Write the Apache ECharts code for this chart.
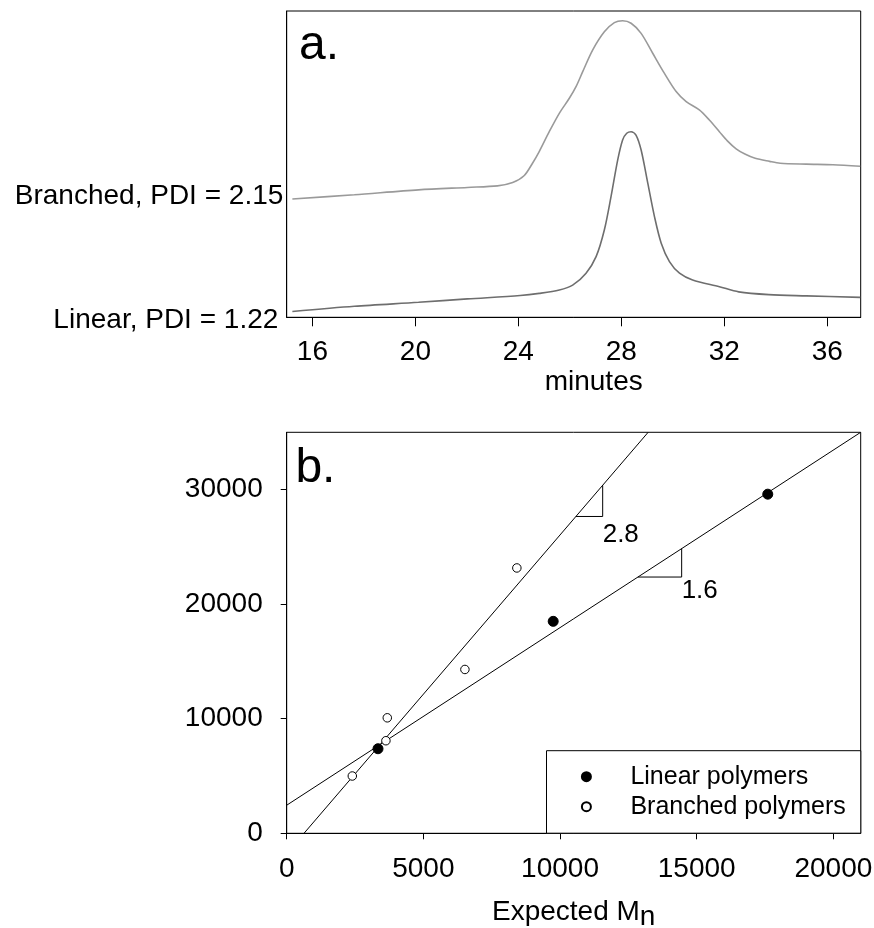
<!DOCTYPE html>
<html>
<head>
<meta charset="utf-8">
<script src="https://cdn.jsdelivr.net/npm/echarts@6/dist/echarts.min.js"></script>
<style>
  html, body { margin: 0; padding: 0; background: #fff; }
  #chart { width: 874px; height: 928px; }
</style>
</head>
<body>
<div id="chart"></div>
<script>
const FONT = '"Liberation Sans", Arial, Helvetica, sans-serif';

// ---- Panel a: GPC elution traces (response offset, arbitrary units) ----
const branchedTime = [15.22, 17.63, 20.12, 22.02, 23.19, 23.78, 24.22, 24.55, 24.81, 25.20, 25.59, 25.98,
  26.24, 26.50, 26.89, 27.34, 27.73, 28.05, 28.38, 28.77, 29.22, 29.67, 30.13, 30.52, 31.03, 31.42, 31.81,
  32.12, 32.46, 32.80, 33.20, 33.76, 34.17, 35.19, 36.22, 37.28];
const branchedSignal = [38.6, 40.0, 41.6, 42.4, 42.9, 44.0, 46.2, 50.3, 54.1, 60.6, 66.6, 71.5,
  75.3, 80.2, 87.3, 93.2, 96.2, 96.8, 96.0, 92.7, 86.2, 79.7, 73.7, 70.4, 67.7, 64.4, 60.6,
  57.6, 55.0, 53.3, 51.9, 50.9, 50.3, 50.0, 49.8, 49.3];
const linearTime = [15.22, 17.63, 20.12, 22.02, 24.07, 24.81, 25.59, 26.11, 26.63, 27.02, 27.34, 27.60,
  27.86, 28.05, 28.21, 28.38, 28.57, 28.77, 29.03, 29.29, 29.55, 29.87, 30.26, 30.77, 31.81, 32.56,
  33.73, 35.19, 37.28];
const linearSignal = [1.9, 3.6, 4.9, 6.0, 7.1, 7.8, 8.9, 10.5, 14.4, 19.8, 28.5, 39.4,
  51.4, 57.9, 60.1, 60.6, 59.5, 54.6, 43.7, 32.8, 24.2, 18.2, 14.4, 12.2, 10.0, 8.3,
  7.4, 7.0, 6.5];
const traceLabels = ['Branched, PDI = 2.15', 'Linear, PDI = 1.22'];
const timeTicks = [16, 20, 24, 28, 32, 36];

// ---- Panel b: measured vs expected Mn ----
const linearExpected = [3340, 9750, 17600];
const linearMeasured = [7380, 18500, 29600];
const branchedExpected = [2400, 3630, 3680, 6520, 8420];
const branchedMeasured = [5000, 8080, 10080, 14300, 23160];
const seriesNames = ['Linear polymers', 'Branched polymers'];
// straight-line fits: [linear, branched]
const fitSlopes = [1.55, 2.78];
const fitIntercepts = [2450, -1760];
const slopeLabels = ['1.6', '2.8'];
const slopeRuns = [[12850, 14450], [10580, 11560]];
const mnTicksX = [0, 5000, 10000, 15000, 20000];
const mnTicksY = [0, 10000, 20000, 30000];

const X_MAX = 21000, Y_MAX = 35000;

function fitLine(i) {
  const m = fitSlopes[i], b = fitIntercepts[i];
  const x0 = Math.max(0, (0 - b) / m);
  const x1 = Math.min(X_MAX, (Y_MAX - b) / m);
  return [[x0, m * x0 + b], [x1, m * x1 + b]];
}
function slopeTriangle(i) {
  const m = fitSlopes[i], b = fitIntercepts[i];
  const [xa, xb] = slopeRuns[i];
  return [[xa, m * xa + b], [xb, m * xa + b], [xb, m * xb + b]];
}
const zip = (a, b) => a.map((v, k) => [v, b[k]]);

const labelOffsets = [[0, 1], [0, 5]];

const option = {
  animation: false,
  backgroundColor: '#fff',
  textStyle: { fontFamily: FONT, color: '#000' },
  grid: [
    { left: 286.7, right: 13.3, top: 11, bottom: 610.7, show: true, borderColor: '#000', borderWidth: 1,
      backgroundColor: 'transparent', containLabel: false, outerBoundsMode: 'none' },
    { left: 286.7, right: 13.3, top: 432.3, bottom: 94.7, show: true, borderColor: '#000', borderWidth: 1,
      backgroundColor: 'transparent', containLabel: false, outerBoundsMode: 'none' }
  ],
  xAxis: [
    {
      gridIndex: 0, type: 'value', min: 15, max: 37.3,
      axisLine: { show: true, onZero: false, lineStyle: { color: '#000', width: 1 } },
      axisTick: { show: true, length: 9, customValues: timeTicks, lineStyle: { color: '#000' } },
      axisLabel: { customValues: timeTicks, fontSize: 28, margin: 21, color: '#000', fontFamily: FONT,
        formatter: v => String(v) },
      splitLine: { show: false },
      name: 'minutes', nameLocation: 'middle', nameGap: 50.7,
      nameTextStyle: { fontSize: 28, color: '#000', fontFamily: FONT, padding: [0, 0, 0, 40] }
    },
    {
      gridIndex: 1, type: 'value', min: 0, max: X_MAX,
      axisLine: { show: true, onZero: false, lineStyle: { color: '#000', width: 1 } },
      axisTick: { show: true, length: 6, customValues: mnTicksX, lineStyle: { color: '#000' } },
      axisLabel: { customValues: mnTicksX, fontSize: 28, margin: 22, color: '#000', fontFamily: FONT,
        formatter: v => String(v) },
      splitLine: { show: false },
      name: '{t|Expected M}{s|n}', nameLocation: 'middle', nameGap: 64.6,
      nameTextStyle: {
        fontSize: 28, color: '#000', fontFamily: FONT,
        rich: {
          t: { fontSize: 28, lineHeight: 28, fontFamily: FONT, color: '#000' },
          s: { fontSize: 28, lineHeight: 28, fontFamily: FONT, color: '#000', padding: [11, 0, 0, 0] }
        }
      }
    }
  ],
  yAxis: [
    {
      gridIndex: 0, type: 'value', min: 0, max: 100,
      axisLine: { show: true, onZero: false, lineStyle: { color: '#000', width: 1 } },
      axisTick: { show: false },
      splitLine: { show: false },
      axisLabel: {
        customValues: [branchedSignal[0], linearSignal[0]],
        margin: 3.4, fontSize: 28, color: '#000', fontFamily: FONT,
        formatter: v => (v === branchedSignal[0] ? '{b|' + traceLabels[0] + '}' : '{l|' + traceLabels[1] + '}'),
        rich: {
          b: { fontSize: 28, fontFamily: FONT, color: '#000', padding: [0, 0, 6, 0] },
          l: { fontSize: 28, fontFamily: FONT, color: '#000', padding: [17, 5, 0, 0] }
        }
      }
    },
    {
      gridIndex: 1, type: 'value', min: 0, max: Y_MAX,
      axisLine: { show: true, onZero: false, lineStyle: { color: '#000', width: 1 } },
      axisTick: { show: true, length: 6, customValues: mnTicksY, lineStyle: { color: '#000' } },
      axisLabel: { customValues: mnTicksY, fontSize: 28, margin: 24, color: '#000', fontFamily: FONT,
        formatter: v => String(v) },
      splitLine: { show: false }
    }
  ],
  legend: {
    data: seriesNames,
    orient: 'vertical',
    left: 546.5, top: 750.7,
    itemWidth: 78, itemHeight: 9, itemGap: 5,
    padding: [13.5, 15, 14, 34.4],
    borderColor: '#000', borderWidth: 1, borderRadius: 0,
    backgroundColor: '#fff',
    selectedMode: false,
    textStyle: { fontSize: 25, lineHeight: 25, color: '#000', fontFamily: FONT }
  },
  series: [
    {
      name: 'Branched trace', type: 'line', xAxisIndex: 0, yAxisIndex: 0,
      data: zip(branchedTime, branchedSignal), smooth: 0.3, symbol: 'none', silent: true,
      lineStyle: { color: '#9a9a9a', width: 1.6 }
    },
    {
      name: 'Linear trace', type: 'line', xAxisIndex: 0, yAxisIndex: 0,
      data: zip(linearTime, linearSignal), smooth: 0.3, symbol: 'none', silent: true,
      lineStyle: { color: '#6e6e6e', width: 1.6 }
    },
    {
      name: 'Linear fit', type: 'line', xAxisIndex: 1, yAxisIndex: 1,
      data: fitLine(0), symbol: 'none', silent: true, lineStyle: { color: '#000', width: 1 }
    },
    {
      name: 'Branched fit', type: 'line', xAxisIndex: 1, yAxisIndex: 1,
      data: fitLine(1), symbol: 'none', silent: true, lineStyle: { color: '#000', width: 1 }
    },
    {
      name: 'Linear slope', type: 'line', xAxisIndex: 1, yAxisIndex: 1,
      data: slopeTriangle(0), symbol: 'none', silent: true, lineStyle: { color: '#000', width: 1 }
    },
    {
      name: 'Branched slope', type: 'line', xAxisIndex: 1, yAxisIndex: 1,
      data: slopeTriangle(1), symbol: 'none', silent: true, lineStyle: { color: '#000', width: 1 }
    },
    {
      name: 'Slope labels', type: 'scatter', xAxisIndex: 1, yAxisIndex: 1, symbolSize: 0.01, silent: true,
      itemStyle: { color: 'transparent', opacity: 1 },
      data: [0, 1].map(i => {
        const tri = slopeTriangle(i);
        return {
          value: tri[1],
          label: { show: true, formatter: slopeLabels[i], position: labelOffsets[i], opacity: 1,
            fontSize: 26, color: '#000', fontFamily: FONT, align: 'left', verticalAlign: 'top', lineHeight: 26 }
        };
      })
    },
    {
      name: seriesNames[0], type: 'scatter', xAxisIndex: 1, yAxisIndex: 1,
      data: zip(linearExpected, linearMeasured), symbol: 'circle', symbolSize: 10,
      itemStyle: { color: '#000', borderColor: '#000', borderWidth: 1, opacity: 1 }, z: 5
    },
    {
      name: seriesNames[1], type: 'scatter', xAxisIndex: 1, yAxisIndex: 1,
      data: zip(branchedExpected, branchedMeasured), symbol: 'circle', symbolSize: 8.5,
      itemStyle: { color: '#fff', borderColor: '#000', borderWidth: 1, opacity: 1 }, z: 5
    }
  ],
  graphic: [
    { type: 'text', x: 299, y: 45.4, style: { text: 'a.', font: '48px ' + FONT, fill: '#000',
      textAlign: 'left', textVerticalAlign: 'middle', verticalAlign: 'middle' } },
    { type: 'text', x: 295.4, y: 468.4, style: { text: 'b.', font: '48px ' + FONT, fill: '#000',
      textAlign: 'left', textVerticalAlign: 'middle', verticalAlign: 'middle' } }
  ]
};

const chart = echarts.init(document.getElementById('chart'), null, { renderer: 'canvas' });
chart.setOption(option);
</script>
</body>
</html>
